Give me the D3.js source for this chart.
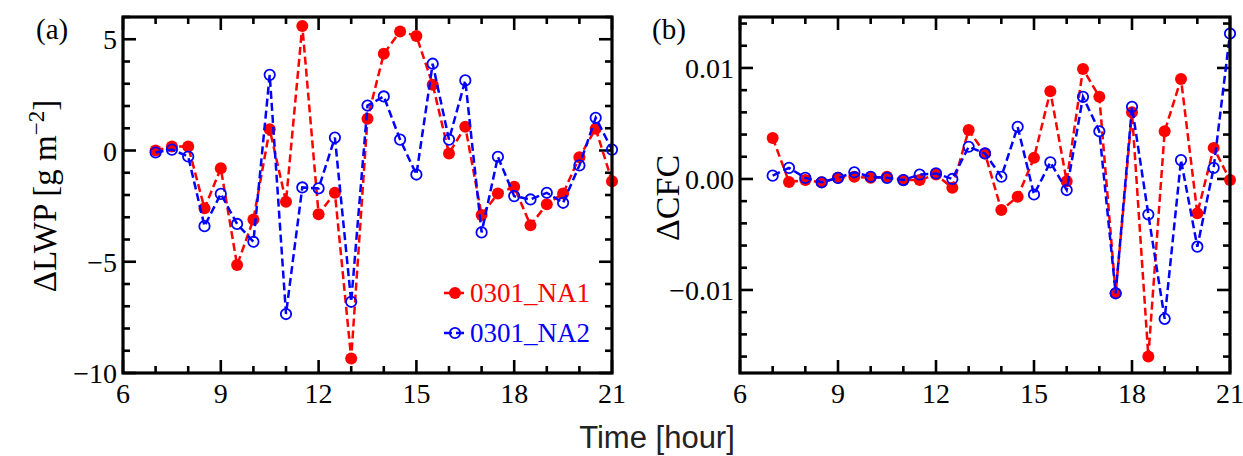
<!DOCTYPE html>
<html>
<head>
<meta charset="utf-8">
<script src="https://cdn.jsdelivr.net/npm/d3@7"></script>
<style>
  body { margin: 0; background: #fff; }
  svg text { font-family: "Liberation Serif", "DejaVu Serif", serif; }
</style>
</head>
<body>
<svg id="fig" width="1243" height="456"></svg>
<script>
// hours of the simulation, every half hour
const hours = [7, 7.5, 8, 8.5, 9, 9.5, 10, 10.5, 11, 11.5, 12, 12.5, 13, 13.5, 14,
  14.5, 15, 15.5, 16, 16.5, 17, 17.5, 18, 18.5, 19, 19.5, 20, 20.5, 21];

const lwpNA1 = [0.0, 0.18, 0.18, -2.6, -0.8, -5.15, -3.1, 0.95, -2.3, 5.6, -2.87, -1.9, -9.35, 1.43,
  4.35, 5.35, 5.15, 2.96, -0.13, 1.07, -2.9, -1.93, -1.63, -3.36, -2.42, -1.93, -0.3, 0.98, -1.38];
const lwpNA2 = [-0.09, 0.04, -0.27, -3.4, -1.95, -3.3, -4.1, 3.4, -7.35, -1.66, -1.7, 0.58, -6.8, 2.02,
  2.43, 0.49, -1.08, 3.9, 0.49, 3.15, -3.68, -0.28, -2.05, -2.2, -1.9, -2.35, -0.67, 1.47, 0.04];

const cfcNA1 = [0.0037, -0.00027, -0.0001, -0.0003, 0.0001, 0.0002, 0.0001, 0.0002, -0.0001, -0.0001,
  0.0004, -0.0008, 0.0044, 0.0023, -0.0028, -0.0016, 0.0019, 0.0079, -0.0002, 0.0099, 0.0074,
  -0.0103, 0.0060, -0.0160, 0.0043, 0.0090, -0.0031, 0.0028, -0.0001];
const cfcNA2 = [0.0003, 0.0010, 0.0001, -0.0003, 0.0001, 0.0006, 0.0002, 0.0001, -0.0001, 0.0004,
  0.0005, 0.0, 0.0029, 0.0023, 0.0002, 0.0047, -0.0014, 0.0015, -0.0010, 0.0074, 0.0043,
  -0.0103, 0.0065, -0.0032, -0.0126, 0.0017, -0.0061, 0.0010, 0.0131];

const seriesNames = ["0301_NA1", "0301_NA2"];
const seriesColors = ["#ff0000", "#0000ff"];

const xTicks = [6, 9, 12, 15, 18, 21];
const lwpTicks = [5, 0, -5, -10];
const cfcTicks = [0.01, 0.0, -0.01];

const svg = d3.select("#fig");
const fmtMinus = s => s.replace("-", "\u2212");

function panel(opts) {
  const {left, right, top, bottom, yDomain, yMajor, yMinorStep, yFmt, data} = opts;
  const g = svg.append("g");
  const x = d3.scaleLinear().domain([6, 21]).range([left, right]);
  const y = d3.scaleLinear().domain(yDomain).range([bottom, top]);

  const xMinor = d3.range(6, 21.001, 1);
  const yMinor = d3.range(Math.ceil(yDomain[0] / yMinorStep), Math.floor(yDomain[1] / yMinorStep) + 1)
    .map(i => i * yMinorStep);

  const ticks = g.append("g").attr("stroke", "#000").attr("stroke-width", 2.6);
  // x ticks, bottom and top, pointing inward
  xMinor.forEach(v => {
    const len = xTicks.includes(v) ? 13 : 7;
    ticks.append("line").attr("x1", x(v)).attr("x2", x(v)).attr("y1", bottom).attr("y2", bottom - len);
    ticks.append("line").attr("x1", x(v)).attr("x2", x(v)).attr("y1", top).attr("y2", top + len);
  });
  yMinor.forEach(v => {
    const major = yMajor.some(m => Math.abs(m - v) < 1e-9);
    const len = major ? 13 : 7;
    ticks.append("line").attr("y1", y(v)).attr("y2", y(v)).attr("x1", left).attr("x2", left + len);
    ticks.append("line").attr("y1", y(v)).attr("y2", y(v)).attr("x1", right).attr("x2", right - len);
  });

  g.selectAll(".xl").data(xTicks).enter().append("text")
    .attr("x", d => x(d)).attr("y", bottom + 30)
    .attr("text-anchor", "middle").attr("font-size", 28)
    .text(d => d);
  g.selectAll(".yl").data(yMajor).enter().append("text")
    .attr("x", left - 6).attr("y", d => y(d) + 10)
    .attr("text-anchor", "end").attr("font-size", 28)
    .text(d => fmtMinus(yFmt(d)));

  const line = d3.line().x((d, i) => x(hours[i])).y(d => y(d));
  data.forEach((vals, k) => {
    g.append("path").datum(vals)
      .attr("fill", "none").attr("stroke", seriesColors[k])
      .attr("stroke-width", 2.5).attr("stroke-dasharray", "8,4")
      .attr("d", line);
    g.selectAll(".m" + k).data(vals).enter().append("circle")
      .attr("cx", (d, i) => x(hours[i])).attr("cy", d => y(d))
      .attr("r", k === 0 ? 6 : 5.2)
      .attr("fill", k === 0 ? seriesColors[k] : "none")
      .attr("stroke", seriesColors[k]).attr("stroke-width", k === 0 ? 0 : 1.8);
  });

  g.append("rect").attr("x", left).attr("y", top)
    .attr("width", right - left).attr("height", bottom - top)
    .attr("fill", "none").attr("stroke", "#000").attr("stroke-width", 3.2);
  return {g, x, y};
}

const a = panel({
  left: 123, right: 612, top: 17, bottom: 373,
  yDomain: [-10, 6], yMajor: lwpTicks, yMinorStep: 1, yFmt: d3.format("d"),
  data: [lwpNA1, lwpNA2]
});
const b = panel({
  left: 740, right: 1230, top: 17, bottom: 373,
  yDomain: [-0.01748, 0.01459], yMajor: cfcTicks, yMinorStep: 0.002, yFmt: d3.format(".2f"),
  data: [cfcNA1, cfcNA2]
});

// panel labels
svg.append("text").attr("x", 36).attr("y", 39).attr("font-size", 29).text("(a)");
svg.append("text").attr("x", 652).attr("y", 39).attr("font-size", 29).text("(b)");

// y axis labels
const ylab = svg.append("text").attr("transform", "translate(56,196) rotate(-90)")
  .attr("text-anchor", "middle").attr("font-size", 33);
ylab.append("tspan").text("\u0394LWP [g m");
ylab.append("tspan").attr("dy", -12).attr("font-size", 23).text("\u22122");
ylab.append("tspan").attr("dy", 12).text("]");

svg.append("text").attr("transform", "translate(679,198) rotate(-90)")
  .attr("text-anchor", "middle").attr("font-size", 34).text("\u0394CFC");

// x axis title
svg.append("text").attr("x", 657).attr("y", 448)
  .attr("text-anchor", "middle").attr("font-size", 31)
  .style("font-family", "'Liberation Sans', Arial, sans-serif").attr("fill", "#222")
  .text("Time [hour]");

// legend in panel (a)
const leg = svg.append("g");
seriesNames.forEach((name, k) => {
  const yy = 293 + k * 40;
  leg.append("line").attr("x1", 444).attr("x2", 467).attr("y1", yy).attr("y2", yy)
    .attr("stroke", seriesColors[k]).attr("stroke-width", 2.5).attr("stroke-dasharray", "8,4");
  leg.append("circle").attr("cx", 455).attr("cy", yy).attr("r", k === 0 ? 6 : 5.2)
    .attr("fill", k === 0 ? seriesColors[k] : "none")
    .attr("stroke", seriesColors[k]).attr("stroke-width", k === 0 ? 0 : 1.8);
  leg.append("text").attr("x", 470).attr("y", yy + 9).attr("font-size", 27)
    .attr("fill", seriesColors[k]).text(name);
});
</script>
</body>
</html>
